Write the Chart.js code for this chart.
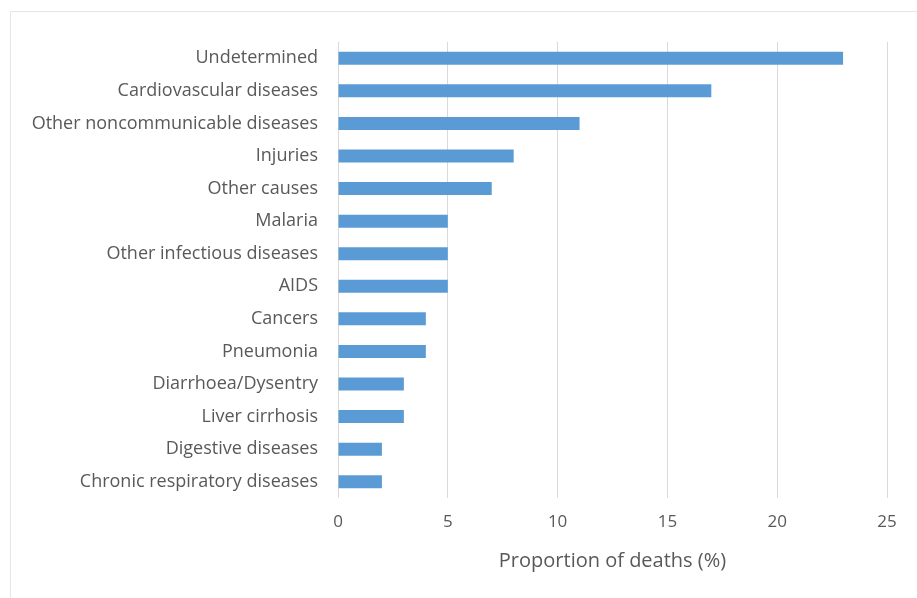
<!DOCTYPE html>
<html>
<head>
<meta charset="utf-8">
<script src="https://cdn.jsdelivr.net/npm/chart.js@4/dist/chart.umd.min.js"></script>
<style>
  html, body { margin: 0; padding: 0; background: #ffffff; }
  #wrap { position: relative; width: 917px; height: 598px; overflow: hidden; }
  #frame { position: absolute; left: 10px; top: 11px; width: 940px; height: 620px;
           border: 1px solid #e6e6e6; box-sizing: border-box; }
  canvas { position: absolute; left: 0; top: 0; }
</style>
</head>
<body>
<div id="wrap">
  <div id="frame"></div>
  <canvas id="chart" width="917" height="598"></canvas>
</div>
<script>
// Causes of death, ordered from largest to smallest share
const causes = [
  'Undetermined',
  'Cardiovascular diseases',
  'Other noncommunicable diseases',
  'Injuries',
  'Other causes',
  'Malaria',
  'Other infectious diseases',
  'AIDS',
  'Cancers',
  'Pneumonia',
  'Diarrhoea/Dysentry',
  'Liver cirrhosis',
  'Digestive diseases',
  'Chronic respiratory diseases'
];
const proportionOfDeaths = [23, 17, 11, 8, 7, 5, 5, 5, 4, 4, 3, 3, 2, 2];
const xTicks = [0, 5, 10, 15, 20, 25];

const textColor = '#595959';
const fontFamily = '"Open Sans", "Noto Sans", sans-serif';

new Chart(document.getElementById('chart'), {
  type: 'bar',
  data: {
    labels: causes,
    datasets: [{
      label: 'Proportion of deaths (%)',
      data: proportionOfDeaths,
      backgroundColor: '#5b9bd5',
      borderWidth: 0,
      categoryPercentage: 1.0,
      barPercentage: 0.4
    }]
  },
  options: {
    indexAxis: 'y',
    responsive: false,
    animation: false,
    layout: { padding: { top: 42, right: 30, bottom: 0, left: 0 } },
    plugins: {
      legend: { display: false },
      tooltip: { enabled: false }
    },
    scales: {
      x: {
        min: xTicks[0],
        max: xTicks[xTicks.length - 1],
        afterBuildTicks: (scale) => { scale.ticks = xTicks.map(v => ({ value: v })); },
        afterFit: (scale) => { scale.height = 100; },
        grid: { display: true, color: '#d9d9d9', lineWidth: 1, drawTicks: false },
        border: { display: false },
        ticks: { color: textColor, font: { family: fontFamily, size: 17 }, padding: 14 },
        title: {
          display: true,
          text: 'Proportion of deaths (%)',
          color: textColor,
          font: { family: fontFamily, size: 20 },
          padding: { top: 10, bottom: 25 }
        }
      },
      y: {
        afterFit: (scale) => { scale.width = 338; },
        grid: { display: false, drawTicks: false },
        border: { display: false },
        ticks: { color: textColor, font: { family: fontFamily, size: 18 }, padding: 20, autoSkip: false }
      }
    }
  }
});
</script>
</body>
</html>
